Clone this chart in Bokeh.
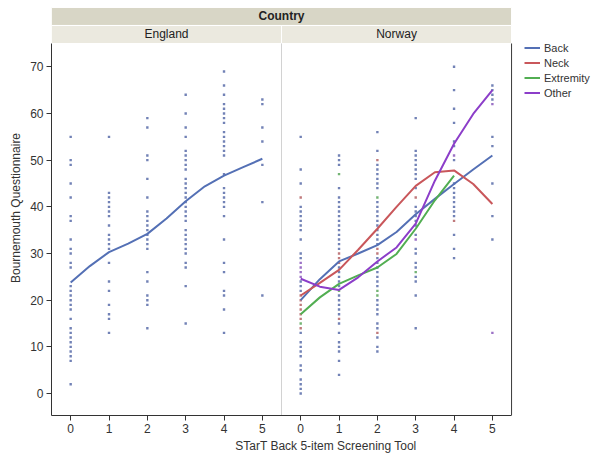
import numpy as np
from bokeh.plotting import figure
from bokeh.models import Range1d, FixedTicker, Legend, LegendItem, Title
from bokeh.embed import file_html
from bokeh.resources import INLINE
from bokeh.core.properties import value

FONT = "Liberation Sans"

# ---------------- data ----------------
scores = [0, 1, 2, 3, 4, 5]
tick_labels = ["0", "1", "2", "3", "4", "5"]
countries = ["England", "Norway"]
groups = ["Back", "Neck", "Extremity", "Other"]

# England: Bournemouth Questionnaire values per STarT Back score
eng_s0 = [55, 50, 49, 45, 42, 38, 37, 33, 31, 30, 28, 27, 23, 22, 21, 20, 19, 18, 16, 14, 13, 12, 11, 10, 9, 8, 7, 2]
eng_s1 = [55, 43, 42, 41, 40, 39, 38, 36, 34, 33, 32, 31, 28, 24, 22, 19, 17, 16, 13]
eng_s2 = [59, 57, 51, 50, 46, 42, 39, 38, 37, 36, 35, 34, 33, 32, 31, 26, 24, 21, 20, 19, 14]
eng_s3 = [64, 60, 57, 55, 52, 51, 50, 49, 48, 46, 45, 44, 43, 42, 41, 40, 39, 38, 37, 35, 34, 33, 32, 31, 30, 28, 27, 23, 15]
eng_s4 = [69, 66, 64, 62, 61, 60, 59, 58, 56, 55, 54, 53, 52, 51, 47, 44, 43, 42, 41, 40, 38, 33, 28, 26, 22, 21, 18, 13]
eng_s5 = [63, 62, 57, 54, 49, 41, 21]

# Norway values per score, with a group code per dot (B=Back, N=Neck, E=Extremity, O=Other)
nor_s0 = [55, 48, 45, 42, 40, 39, 38, 37, 36, 35, 33, 30, 29, 28, 27, 26, 25, 24, 23, 22, 21, 20, 19, 18, 17, 16, 15, 14, 13, 11, 10, 9, 8, 6, 5, 3, 2, 1, 0]
nor_g0 = "BBB" + "N" + "BBBBBBBBB" + "OOOO" + "BBB" + "NNNNNN" + "E" + "N" + "BBBBBBBBBBB"
nor_s1 = [51, 50, 49, 47, 44, 42, 41, 40, 39, 38, 37, 36, 35, 34, 33, 32, 31, 30, 29, 28, 27, 26, 25, 24, 23, 22, 21, 20, 19, 18, 17, 16, 15, 13, 11, 10, 9, 7, 4]
nor_g1 = "BBBE" + "BBBBBBBBBBBBB" + "NNN" + "BBBBB" + "E" + "BBBBB" + "N" + "BBBBBB"
nor_s2 = [56, 52, 50, 49, 48, 47, 46, 45, 44, 42, 41, 40, 39, 38, 37, 36, 35, 34, 33, 32, 31, 30, 29, 28, 27, 26, 25, 24, 23, 22, 21, 20, 19, 18, 17, 15, 14, 13, 12, 10, 9]
nor_g2 = "BBN" + "BBBBBB" + "E" + "BBBBBBBBBB" + "NN" + "BBBBBBB" + "EE" + "BBBBBB" + "N" + "BBBB"
nor_s3 = [59, 52, 51, 50, 49, 48, 47, 46, 44, 42, 40, 39, 38, 37, 36, 34, 33, 31, 30, 28, 27, 26, 25, 24, 21, 14]
nor_g3 = "B" + "BBBBBBBB" + "N" + "BBBBBB" + "O" + "BBBB" + "E" + "BBBB"
nor_s4 = [70, 65, 61, 58, 54, 53, 51, 50, 45, 44, 43, 42, 41, 40, 39, 38, 37, 34, 31, 29]
nor_g4 = "BBBBBB" + "O" + "B" + "BBBBBBBBN" + "BBB"
nor_s5 = [66, 65, 64, 63, 62, 55, 53, 45, 38, 33, 13]
nor_g5 = "BBBBOBBBBBO"

# fitted curves (read at half-score steps)
curve_x = [0, 0.5, 1, 1.5, 2, 2.5, 3, 3.5, 4, 4.5, 5]
eng_fit = [23.8, 27.3, 30.3, 32.1, 34.2, 37.5, 41.2, 44.4, 46.7, 48.5, 50.3]
nor_back_fit = [20.0, 24.5, 28.3, 30.0, 31.8, 34.6, 38.4, 41.7, 44.9, 48.0, 51.0]
nor_neck_fit = [21.0, 23.7, 26.5, 30.8, 35.3, 40.0, 44.5, 47.4, 47.8, 44.9, 40.6]
ext_x = [0, 0.5, 1, 1.5, 2, 2.5, 3, 3.5, 4]
nor_ext_fit = [17.0, 20.6, 23.5, 25.3, 27.0, 29.9, 35.3, 41.4, 46.7]
nor_other_fit = [24.6, 22.9, 22.2, 24.9, 28.3, 31.3, 36.4, 45.6, 53.5, 59.9, 65.0]

# ---------------- layout constants ----------------
NOR_SHIFT = 6          # Norway panel sits six score-units to the right
X_LO, X_HI = -0.5, 11.5
Y_LO, Y_TOP = -4.71, 75.0
STRIP = 3.86
FRAME_X_HI = 13.82
FRAME_Y_HI = 84.21

LINE_COL = {"Back": "#5470b5", "Neck": "#c9575b", "Extremity": "#52ae52", "Other": "#8c3ec9"}
DOT_COL = {"B": "#7282b6", "N": "#c07a7c", "E": "#74b474", "O": "#9c72c6"}

p = figure(width=600, height=459, x_range=Range1d(X_LO, FRAME_X_HI), y_range=Range1d(Y_LO, FRAME_Y_HI),
           min_border_left=51, min_border_right=0, min_border_top=0, min_border_bottom=44,
           toolbar_location=None, output_backend="svg", background_fill_color="white",
           border_fill_color="white")
p.outline_line_color = None
p.xgrid.visible = False
p.ygrid.visible = False

# header strips
p.quad(left=[X_LO], right=[X_HI], bottom=[Y_TOP + STRIP], top=[Y_TOP + 2 * STRIP],
       fill_color="#d8d6c6", line_color="white", line_width=1)
p.quad(left=[X_LO, X_LO + NOR_SHIFT], right=[X_LO + NOR_SHIFT, X_HI], bottom=[Y_TOP, Y_TOP],
       top=[Y_TOP + STRIP, Y_TOP + STRIP], fill_color="#ebe9df", line_color="white", line_width=1)
p.text(x=[(X_LO + X_HI) / 2], y=[Y_TOP + 1.5 * STRIP], text=["Country"], text_align="center",
       text_baseline="middle", text_font=value(FONT), text_font_size="12px", text_font_style="bold",
       text_color="#222222")
p.text(x=[2.5, 2.5 + NOR_SHIFT], y=[Y_TOP + 0.5 * STRIP] * 2, text=countries, text_align="center",
       text_baseline="middle", text_font=value(FONT), text_font_size="12px", text_color="#222222")

# panel borders
p.segment(x0=[X_LO + NOR_SHIFT], y0=[Y_LO], x1=[X_LO + NOR_SHIFT], y1=[Y_TOP], line_color="#d2d2d2", line_width=1)
p.segment(x0=[X_HI], y0=[Y_LO], x1=[X_HI], y1=[Y_TOP], line_color="#3a3a3a", line_width=1)

# England dots
eng_cols = [eng_s0, eng_s1, eng_s2, eng_s3, eng_s4, eng_s5]
ex, ey = [], []
for s, vals in zip(scores, eng_cols):
    ex += [s] * len(vals)
    ey += vals
p.scatter(ex, ey, marker="square", size=2.4, fill_color=DOT_COL["B"], line_color=None)

# Norway dots
nor_cols = [(nor_s0, nor_g0), (nor_s1, nor_g1), (nor_s2, nor_g2), (nor_s3, nor_g3), (nor_s4, nor_g4), (nor_s5, nor_g5)]
nx, ny, nc = [], [], []
for s, (vals, g) in zip(scores, nor_cols):
    g = (g + "B" * len(vals))[:len(vals)]
    nx += [s + NOR_SHIFT] * len(vals)
    ny += vals
    nc += [DOT_COL[c] for c in g]
p.scatter(nx, ny, marker="square", size=2.4, fill_color=nc, line_color=None)

# curves
p.line(curve_x, eng_fit, line_color=LINE_COL["Back"], line_width=2)
nxs = [x + NOR_SHIFT for x in curve_x]
r_back = p.line(nxs, nor_back_fit, line_color=LINE_COL["Back"], line_width=2)
r_neck = p.line(nxs, nor_neck_fit, line_color=LINE_COL["Neck"], line_width=2)
r_ext = p.line([x + NOR_SHIFT for x in ext_x], nor_ext_fit, line_color=LINE_COL["Extremity"], line_width=2)
r_oth = p.line(nxs, nor_other_fit, line_color=LINE_COL["Other"], line_width=2)

# axes
p.xaxis.ticker = FixedTicker(ticks=scores + [s + NOR_SHIFT for s in scores])
p.xaxis.major_label_overrides = {s + NOR_SHIFT: t for s, t in zip(scores, tick_labels)}
p.xaxis.bounds = (X_LO, X_HI)
p.yaxis.ticker = FixedTicker(ticks=[0, 10, 20, 30, 40, 50, 60, 70])
p.yaxis.bounds = (Y_LO, Y_TOP)
for ax in (p.xaxis[0], p.yaxis[0]):
    ax.axis_line_color = "#333333"
    ax.major_tick_line_color = "#333333"
    ax.major_tick_in = 0
    ax.major_tick_out = 5
    ax.minor_tick_line_color = None
    ax.major_label_text_font = FONT
    ax.major_label_text_font_size = "12px"
    ax.major_label_text_color = "#333333"
    ax.major_label_standoff = 3

# axis titles (centred on the plotting panels, not on the whole frame)
p.add_layout(Title(text="Bournemouth Questionnaire", align="center", offset=-21.5, standoff=10,
                   text_font=FONT, text_font_size="12px", text_font_style="normal",
                   text_color="#333333"), "left")
p.add_layout(Title(text="STarT Back 5-item Screening Tool", align="center", offset=-44.5, standoff=3,
                   text_font=FONT, text_font_size="12px", text_font_style="normal",
                   text_color="#333333"), "below")

legend = Legend(items=[LegendItem(label=g, renderers=[r]) for g, r in zip(groups, [r_back, r_neck, r_ext, r_oth])],
                location=(473, 315), glyph_width=16, glyph_height=15, label_height=15, label_standoff=4,
                spacing=0, padding=0, margin=0, border_line_color=None, background_fill_alpha=0,
                label_text_font=FONT, label_text_font_size="11px", label_text_color="#333333")
p.add_layout(legend)

open("out.html", "w").write(file_html(p, INLINE))
